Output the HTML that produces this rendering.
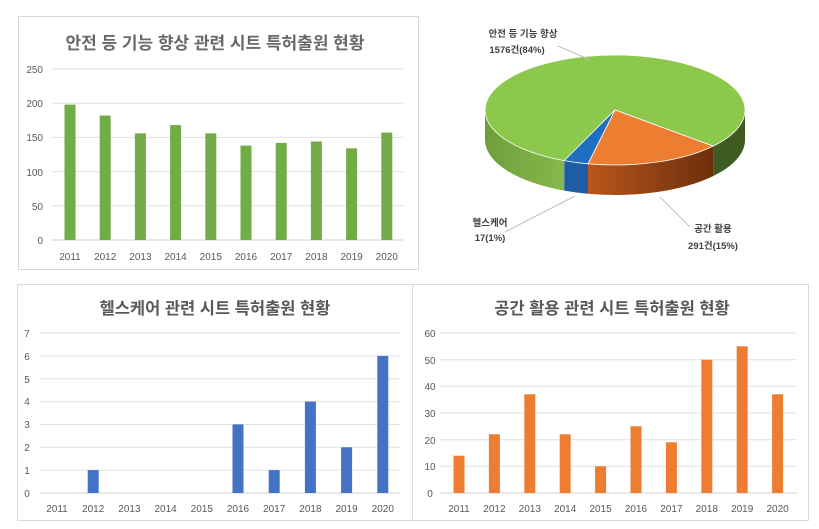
<!DOCTYPE html>
<html><head><meta charset="utf-8"><style>
body{margin:0;background:#fff;}
svg{display:block;font-family:"Liberation Sans","Noto Sans CJK KR",sans-serif;}
.t{fill:#595959;font-size:10px;}
.ti{fill:#595959;font-size:17px;font-weight:bold;}
.ti2{fill:#595959;font-size:16.5px;font-weight:bold;}
.g{stroke:#e0e0e0;stroke-width:1;}
.pl{fill:#404040;font-size:9.5px;font-weight:bold;}
</style></head><body>
<svg width="819" height="529" viewBox="0 0 819 529">
<rect width="819" height="529" fill="#fff"/>
<!-- Chart 1 -->
<rect x="18.5" y="16.5" width="400" height="253" fill="#fff" stroke="#d9d9d9"/>
<text class="ti" x="215" y="49" text-anchor="middle" fill-opacity="0.9">안전 등 기능 향상 관련 시트 특허출원 현황</text>
<g class="g">
<line x1="52" x2="403" y1="69" y2="69"/><line x1="52" x2="403" y1="103.2" y2="103.2"/><line x1="52" x2="403" y1="137.4" y2="137.4"/><line x1="52" x2="403" y1="171.6" y2="171.6"/><line x1="52" x2="403" y1="205.8" y2="205.8"/><line x1="52" x2="403" y1="240" y2="240" stroke="#d0d0d0"/>
</g>
<g class="t" text-anchor="end">
<text x="43" y="73">250</text><text x="43" y="107">200</text><text x="43" y="141">150</text><text x="43" y="176">100</text><text x="43" y="210">50</text><text x="43" y="244">0</text>
</g>
<g fill="#70ad47">
<rect x="64.5" y="104.6" width="11" height="135.4"/><rect x="99.7" y="115.5" width="11" height="124.5"/><rect x="134.9" y="133.3" width="11" height="106.7"/><rect x="170.1" y="125.1" width="11" height="114.9"/><rect x="205.3" y="133.3" width="11" height="106.7"/><rect x="240.5" y="145.6" width="11" height="94.4"/><rect x="275.7" y="142.9" width="11" height="97.1"/><rect x="310.9" y="141.5" width="11" height="98.5"/><rect x="346.1" y="148.3" width="11" height="91.7"/><rect x="381.3" y="132.6" width="11" height="107.4"/>
</g>
<g class="t" text-anchor="middle">
<text x="70" y="260">2011</text><text x="105.2" y="260">2012</text><text x="140.4" y="260">2013</text><text x="175.6" y="260">2014</text><text x="210.8" y="260">2015</text><text x="246" y="260">2016</text><text x="281.2" y="260">2017</text><text x="316.4" y="260">2018</text><text x="351.6" y="260">2019</text><text x="386.8" y="260">2020</text>
</g>
<!-- Pie -->
<path d="M745,110 A130 55 0 0 1 713.1,146.1 L713.1,176.1 A130 55 0 0 0 745,140 Z" fill="#3e5c22"/>
<defs>
<linearGradient id="og" x1="0" x2="1"><stop offset="0" stop-color="#b8561a"/><stop offset="1" stop-color="#6e2e0c"/></linearGradient>
<linearGradient id="gg" x1="0" x2="1"><stop offset="0" stop-color="#6e9e3b"/><stop offset="1" stop-color="#86b84d"/></linearGradient>
</defs>
<path d="M713.1,146.1 A130 55 0 0 1 588,163.8 L588,193.8 A130 55 0 0 0 713.1,176.1 Z" fill="url(#og)"/>
<path d="M588,163.8 A130 55 0 0 1 564.2,160.6 L564.2,190.6 A130 55 0 0 0 588,193.8 Z" fill="#1f5ca6"/>
<path d="M564.2,160.6 A130 55 0 0 1 485,110 L485,140 A130 55 0 0 0 564.2,190.6 Z" fill="url(#gg)"/>
<path d="M615,110 L564.2,160.6 A130 55 0 1 1 713.1,146.1 Z" fill="#8cc84b" stroke="#fff" stroke-width="0.8"/>
<path d="M615,110 L713.1,146.1 A130 55 0 0 1 588,163.8 Z" fill="#ed7d31" stroke="#fff" stroke-width="0.8"/>
<path d="M615,110 L588,163.8 A130 55 0 0 1 564.2,160.6 Z" fill="#1e6fc0" stroke="#fff" stroke-width="0.8"/>
<g stroke="#bfbfbf" fill="none"><path d="M558,46 L590,60"/><path d="M505,232 L575,196"/><path d="M660,197 L690,227"/></g>
<g class="pl" text-anchor="middle">
<text x="523" y="37">안전 등 기능 향상</text><text x="517" y="53">1576건(84%)</text>
<text x="490" y="226">헬스케어</text><text x="490" y="241">17(1%)</text>
<text x="713" y="232">공간 활용</text><text x="713" y="249">291건(15%)</text>
</g>
<!-- Chart 2 -->
<rect x="17.5" y="284.5" width="395" height="236" fill="#fff" stroke="#d9d9d9"/>
<text class="ti2" x="215" y="314" text-anchor="middle">헬스케어 관련 시트 특허출원 현황</text>
<g class="g">
<line x1="40" x2="400" y1="333" y2="333"/><line x1="40" x2="400" y1="355.9" y2="355.9"/><line x1="40" x2="400" y1="378.7" y2="378.7"/><line x1="40" x2="400" y1="401.6" y2="401.6"/><line x1="40" x2="400" y1="424.4" y2="424.4"/><line x1="40" x2="400" y1="447.3" y2="447.3"/><line x1="40" x2="400" y1="470.1" y2="470.1"/><line x1="40" x2="400" y1="493" y2="493" stroke="#d0d0d0"/>
</g>
<g class="t" text-anchor="middle">
<text x="27" y="337">7</text><text x="27" y="360">6</text><text x="27" y="383">5</text><text x="27" y="405">4</text><text x="27" y="428">3</text><text x="27" y="451">2</text><text x="27" y="474">1</text><text x="27" y="497">0</text>
</g>
<g fill="#4472c4">
<rect x="87.7" y="470.1" width="11" height="22.9"/><rect x="232.5" y="424.4" width="11" height="68.6"/><rect x="268.7" y="470.1" width="11" height="22.9"/><rect x="304.9" y="401.6" width="11" height="91.4"/><rect x="341.1" y="447.3" width="11" height="45.7"/><rect x="377.3" y="355.9" width="11" height="137.1"/>
</g>
<g class="t" text-anchor="middle">
<text x="57" y="512">2011</text><text x="93.2" y="512">2012</text><text x="129.4" y="512">2013</text><text x="165.6" y="512">2014</text><text x="201.8" y="512">2015</text><text x="238" y="512">2016</text><text x="274.2" y="512">2017</text><text x="310.4" y="512">2018</text><text x="346.6" y="512">2019</text><text x="382.8" y="512">2020</text>
</g>
<!-- Chart 3 -->
<rect x="412.5" y="284.5" width="396" height="236" fill="#fff" stroke="#d9d9d9"/>
<text class="ti2" x="612" y="314" text-anchor="middle">공간 활용 관련 시트 특허출원 현황</text>
<g class="g">
<line x1="440" x2="797" y1="333" y2="333"/><line x1="440" x2="797" y1="359.7" y2="359.7"/><line x1="440" x2="797" y1="386.3" y2="386.3"/><line x1="440" x2="797" y1="413" y2="413"/><line x1="440" x2="797" y1="439.7" y2="439.7"/><line x1="440" x2="797" y1="466.3" y2="466.3"/><line x1="440" x2="797" y1="493" y2="493" stroke="#d0d0d0"/>
</g>
<g class="t" text-anchor="middle">
<text x="430" y="337">60</text><text x="430" y="364">50</text><text x="430" y="390">40</text><text x="430" y="417">30</text><text x="430" y="444">20</text><text x="430" y="470">10</text><text x="430" y="497">0</text>
</g>
<g fill="#ed7d31">
<rect x="453.5" y="455.7" width="11" height="37.3"/><rect x="488.9" y="434.3" width="11" height="58.7"/><rect x="524.3" y="394.3" width="11" height="98.7"/><rect x="559.7" y="434.3" width="11" height="58.7"/><rect x="595.1" y="466.3" width="11" height="26.7"/><rect x="630.5" y="426.3" width="11" height="66.7"/><rect x="665.9" y="442.3" width="11" height="50.7"/><rect x="701.3" y="359.7" width="11" height="133.3"/><rect x="736.7" y="346.3" width="11" height="146.7"/><rect x="772.1" y="394.3" width="11" height="98.7"/>
</g>
<g class="t" text-anchor="middle">
<text x="459" y="512">2011</text><text x="494.4" y="512">2012</text><text x="529.8" y="512">2013</text><text x="565.2" y="512">2014</text><text x="600.6" y="512">2015</text><text x="636" y="512">2016</text><text x="671.4" y="512">2017</text><text x="706.8" y="512">2018</text><text x="742.2" y="512">2019</text><text x="777.6" y="512">2020</text>
</g>
</svg>
</body></html>
